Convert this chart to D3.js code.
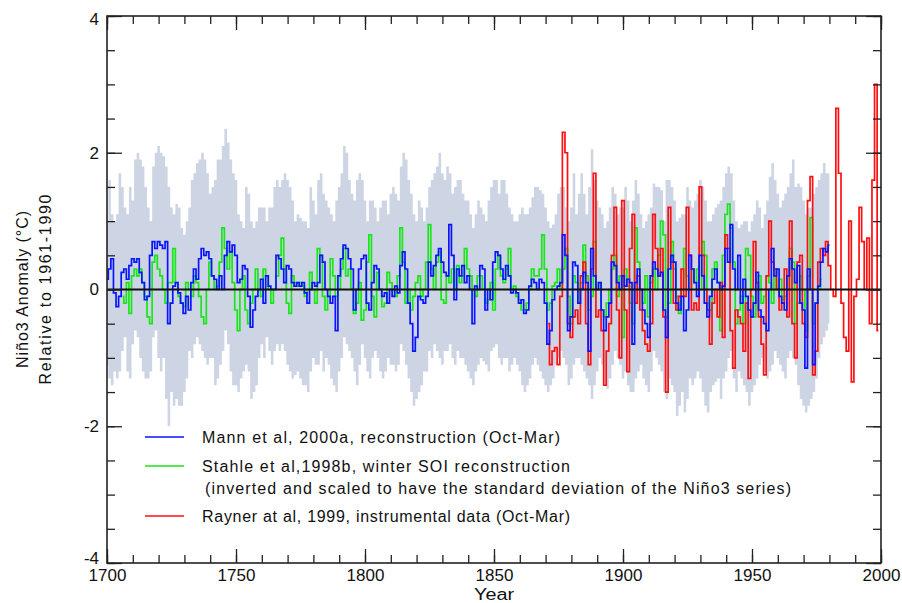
<!DOCTYPE html>
<html lang="en">
<head>
<meta charset="UTF-8">
<title>Nino3 anomaly</title>
<script src="https://cdn.jsdelivr.net/npm/d3@7"></script>
<style>
  body { margin: 0; background: #fff; }
  text { font-family: "Liberation Sans", Arial, sans-serif; fill: #111; }
</style>
</head>
<body>
<script>
// Mann et al 2000a, 1700-1980
const mannStart = 1700;
const mann = [
  0.15, 0.3, 0.45, -0.05, -0.25, -0.1, 0.25, 0.3, 0.15, 0.35,
  0.45, 0.4, 0.45, 0.25, 0.1, -0.15, -0.1, 0.5, 0.7, 0.6,
  0.7, 0.65, 0.6, 0.7, -0.5, -0.2, 0.05, 0.1, -0.05, -0.2,
  -0.35, -0.1, -0.3, 0.1, 0.3, 0.15, 0.45, 0.6, 0.5, 0.55,
  0.45, 0.2, 0.15, 0.0, 0.2, 0.0, 0.5, 0.7, 0.55, 0.65,
  0.5, 0.1, 0.15, 0.35, 0.3, -0.1, -0.55, -0.3, -0.1, 0.0,
  0.15, -0.2, 0.2, 0.05, 0.0, 0.0, 0.5, 0.45, 0.3, 0.1,
  0.35, 0.3, 0.1, 0.05, 0.1, 0.05, 0.1, -0.05, -0.2, 0.0,
  0.1, 0.05, 0.1, 0.5, 0.4, 0.0, -0.1, -0.2, -0.1, -0.6,
  0.2, 0.45, 0.65, 0.6, 0.45, 0.3, -0.3, 0.0, 0.3, 0.45,
  0.5, -0.2, -0.3, 0.1, 0.35, 0.3, 0.0, -0.1, -0.05, -0.2,
  0.0, -0.1, 0.05, -0.05, 0.35, 0.55, 0.3, -0.2, -0.5, -0.9,
  -0.7, -0.1, -0.15, -0.2, -0.1, 0.4, 0.2, 0.35, 0.5, 0.6,
  0.4, 0.25, 0.2, 0.95, 0.5, -0.15, 0.3, 0.2, 0.35, 0.1,
  0.2, 0.0, -0.5, 0.05, 0.0, 0.35, 0.3, -0.3, 0.0, -0.15,
  0.4, 0.55, 0.5, 0.3, 0.15, 0.35, 0.2, -0.05, 0.0, -0.05,
  -0.2, -0.15, -0.35, -0.3, 0.05, 0.15, 0.1, 0.0, 0.15, 0.1,
  -0.2, -0.8, -0.6, -0.15, 0.0, 0.05, 0.1, 0.8, 0.5, -0.6,
  -0.4, 0.4, 0.35, -0.2, 0.0, 0.25, 0.1, -0.9, 0.6, 0.2,
  0.0, 0.1, -0.3, -0.6, -0.4, -0.2, 0.4, 0.35, 0.1, 0.0,
  0.2, 0.05, 0.15, 0.1, -0.8, 0.1, 0.3, 0.0, -0.3, -0.5,
  -0.7, 0.2, 0.4, 0.3, 0.2, 0.25, -0.3, -0.7, 0.3, 0.5,
  0.4, -0.2, -0.3, -0.1, -0.6, -0.3, 0.5, 0.3, 0.1, -0.1,
  0.5, 0.2, -0.2, -0.4, -0.1, 0.15, 0.3, 0.1, 0.0, 0.05,
  0.6, 0.4, 0.95, 0.3, 0.0, 0.5, -0.2, 0.15, -0.1, -0.3,
  -0.4, -0.2, 0.25, -0.3, -0.4, -0.5, -0.6, 0.0, 0.6, 0.2,
  0.3, -0.1, -0.2, -0.3, 0.2, 0.45, 0.3, 0.1, 0.35, -0.2,
  -0.3, -1.15, 0.3, 0.0, -1.1, -0.2, 0.05, 0.4, 0.6, 0.55,
  0.65
];

// uncertainty band around the reconstruction, 1700-1980
const bandUpper = [
  1.0, 1.6, 1.1, 1.0, 1.1, 1.7, 1.5, 1.2, 1.1, 1.5,
  1.3, 1.9, 2.0, 1.9, 1.8, 1.5, 1.2, 1.0, 1.8, 2.0,
  2.1, 2.0, 1.95, 1.8, 1.5, 1.2, 1.1, 1.25, 1.2, 0.9,
  0.8, 1.0, 1.2, 1.6, 1.7, 1.85, 1.9, 2.0, 1.9, 1.7,
  1.4, 1.5, 1.6, 1.9, 1.9, 2.1, 2.35, 2.15, 1.9, 1.7,
  1.6, 1.1, 1.0, 0.9, 1.5, 1.4, 1.0, 0.9, 1.0, 1.2,
  1.2, 1.2, 1.0, 1.2, 1.2, 1.5, 1.6, 1.5, 1.6, 1.7,
  1.6, 1.5, 1.3, 1.0, 1.1, 1.05, 1.0, 1.0, 0.9, 1.5,
  1.3, 1.1, 1.6, 1.7, 1.4, 1.3, 1.2, 1.1, 1.0, 1.3,
  1.5, 1.7, 2.1, 2.0, 1.6, 1.4, 1.3, 1.6, 1.7, 1.6,
  1.3, 1.0, 1.3, 1.3, 1.2, 1.0, 1.2, 1.3, 1.3, 1.1,
  1.4, 1.5, 1.4, 1.3, 1.8, 2.0, 1.9, 1.6, 1.4, 1.1,
  1.0, 1.3, 1.2, 1.0, 1.2, 1.5, 1.6, 1.7, 1.8, 2.0,
  1.7, 1.6, 1.8, 1.7, 1.4, 1.5, 1.6, 1.6, 1.4, 1.3,
  1.3, 1.1, 0.9, 1.1, 1.3, 1.2, 1.1, 1.0, 1.3, 1.5,
  1.6, 1.6, 1.4, 1.6, 1.6, 1.4, 1.2, 1.1, 1.0, 1.0,
  1.1, 1.2, 1.1, 1.1, 1.2, 1.35, 1.5, 1.5, 1.45, 1.4,
  1.2, 1.0, 0.9, 0.95, 1.1, 1.4, 1.5, 1.5, 1.2, 1.0,
  1.2, 1.7, 1.1, 1.4, 1.7, 1.4, 1.1, 1.5, 2.05, 1.6,
  1.3, 1.2, 1.1, 0.9, 1.0, 1.2, 1.5, 1.4, 1.1, 1.2,
  1.2, 1.5, 1.3, 1.0, 1.3, 1.6, 1.4, 1.1, 0.9, 1.0,
  1.1, 1.2, 1.55, 1.5, 1.5, 1.45, 1.0, 1.6, 1.6, 1.5,
  1.3, 1.0, 1.05, 1.1, 1.1, 1.5, 1.3, 1.2, 1.3, 1.4,
  1.6, 1.5, 1.3, 1.0, 1.0, 1.1, 1.2, 1.25, 1.3, 1.5,
  1.7, 1.8, 1.7, 1.3, 1.0, 0.9, 0.95, 1.0, 1.0, 0.85,
  1.0, 1.1, 1.3, 1.2, 0.9, 1.1, 1.3, 1.65, 1.85, 1.6,
  1.4, 1.2, 1.3, 1.4, 1.5, 1.7, 1.9, 1.5, 1.55, 1.5,
  1.3, 1.1, 1.2, 1.2, 1.4, 1.5, 1.6, 1.7, 1.85, 1.7,
  1.7
];
const bandLower = [
  -1.1, -1.3, -1.4, -1.2, -1.3, -1.2, -0.9, -0.7, -1.2, -1.3,
  -0.8, -0.6, -0.7, -1.0, -1.2, -1.3, -1.3, -1.2, -0.7, -0.6,
  -1.0, -1.2, -1.0, -1.6, -2.0, -1.5, -1.7, -1.6, -1.7, -1.7,
  -1.5, -1.3, -0.9, -1.0, -0.8, -0.7, -0.8, -0.9, -1.0, -1.1,
  -1.0, -1.0, -1.4, -1.3, -1.1, -0.9, -0.6, -0.8, -1.2, -1.4,
  -1.4, -1.5, -1.3, -1.2, -1.1, -1.2, -1.6, -1.5, -1.4, -1.0,
  -0.8, -1.0, -0.7, -0.9, -1.1, -0.9, -0.8, -0.9, -0.8, -0.9,
  -1.1, -1.2, -1.3, -1.25, -1.2, -1.3, -1.4, -1.4, -1.5, -1.2,
  -1.0, -1.1, -1.1, -0.9, -1.2, -1.0, -1.1, -1.3, -1.4, -1.5,
  -1.2, -1.0, -0.7, -0.8, -0.9, -1.0, -1.2, -1.4, -1.1, -0.8,
  -1.0, -1.2, -1.3, -1.0, -0.9, -1.0, -1.2, -1.3, -1.2, -1.0,
  -1.1, -1.1, -1.2, -1.1, -0.8, -0.9, -1.1, -1.3, -1.5, -1.7,
  -1.6, -1.5, -1.4, -1.2, -1.2, -0.9, -1.0, -0.8, -0.9, -1.0,
  -1.1, -0.9, -0.9, -0.8, -1.0, -1.1, -0.9, -1.0, -1.0, -1.1,
  -1.2, -1.3, -1.4, -1.2, -1.1, -1.0, -1.05, -1.1, -1.2, -0.9,
  -0.85, -0.8, -1.0, -1.1, -1.0, -1.0, -1.2, -1.1, -1.0, -1.1,
  -1.2, -1.4, -1.5, -1.4, -1.3, -1.1, -1.0, -1.1, -1.2, -1.3,
  -1.4, -1.5, -1.4, -1.3, -1.1, -1.0, -0.9, -1.0, -1.1, -1.4,
  -1.3, -1.1, -1.0, -1.0, -1.1, -1.2, -1.3, -1.4, -1.6, -1.4,
  -1.2, -1.0, -1.1, -1.4, -1.45, -1.3, -1.1, -0.9, -1.0, -1.1,
  -1.3, -1.2, -1.4, -1.5, -1.5, -1.3, -1.2, -1.1, -1.3, -1.4,
  -1.5, -1.2, -0.9, -1.0, -1.1, -1.2, -1.5, -1.6, -1.3, -1.4,
  -1.5, -1.85, -1.7, -1.5, -1.8, -1.6, -1.3, -1.4, -1.3, -1.2,
  -1.3, -1.5, -1.7, -1.8, -1.5, -1.4, -1.35, -1.3, -1.6, -1.3,
  -1.2, -1.0, -0.9, -1.3, -1.5, -1.2, -1.3, -1.4, -1.5, -1.7,
  -1.5, -1.4, -1.3, -1.1, -1.0, -1.2, -1.3, -1.2, -1.1, -0.9,
  -1.0, -1.1, -1.2, -1.3, -1.0, -0.9, -1.0, -1.1, -1.4, -1.6,
  -1.7, -1.8, -1.7, -1.6, -1.5, -1.3, -1.0, -0.8, -0.7, -0.6,
  -0.5
];

// Stahle et al 1998b, inverted and scaled winter SOI, 1706-1977
const stahleStart = 1706;
const stahle = [
  -0.1, -0.2, 0.1, -0.35,
  0.2, 0.3, 0.2, 0.3, 0.1, -0.1, -0.4, -0.5, 0.4, 0.5,
  0.3, 0.2, 0.0, -0.2, 0.1, 0.1, 0.6, 0.1, -0.1, -0.2,
  -0.25, 0.1, 0.0, -0.1, 0.2, 0.1, -0.1, -0.4, -0.5, 0.0,
  0.4, 0.2, 0.0, 0.05, 0.4, 0.9, 0.6, 0.3, 0.55, 0.1,
  -0.3, -0.6, 0.0, 0.2, -0.3, -0.5, -0.2, 0.0, 0.3, 0.0,
  -0.1, 0.3, 0.2, 0.0, -0.2, 0.0, 0.2, 0.5, 0.75, 0.3,
  -0.2, -0.35, 0.2, 0.1, 0.05, 0.1, 0.05, -0.1, 0.0, 0.25,
  0.0, -0.2, 0.6, 0.5, -0.1, -0.3, -0.1, 0.45, 0.2, -0.1,
  0.0, 0.3, 0.6, 0.2, 0.3, 0.0, -0.35, -0.2, 0.1, -0.45,
  -0.3, 0.4, 0.8, -0.1, -0.4, 0.25, 0.0, -0.25, -0.2, 0.25,
  0.1, 0.0, -0.1, 0.2, 0.9, 0.4, -0.2, 0.0, -0.3, -0.1,
  0.1, 0.2, -0.1, 0.0, 0.4, 0.95, 0.3, 0.0, 0.4, 0.55,
  -0.15, -0.2, 0.2, 0.1, 0.3, 0.0, 0.35, 0.1, 0.2, 0.6,
  0.3, 0.2, 0.0, -0.1, 0.2, 0.2, 0.0, -0.2, -0.15, 0.1,
  -0.3, 0.3, 0.5, 0.2, 0.1, 0.3, 0.6, 0.0, 0.05, -0.1,
  -0.15, -0.3, -0.3, -0.2, 0.0, 0.3, 0.2, 0.2, 0.3, 0.8,
  0.3, -0.3, -0.2, 0.05, 0.1, 0.3, 0.0, 0.3, 0.6, -0.1,
  -0.5, 0.2, 0.1, -0.2, 0.1, 0.65, 0.2, -0.3, -0.1, 0.7,
  0.0, 0.1, -0.3, -0.4, -0.2, 0.0, 0.3, 0.5, -0.1, 0.2,
  -0.7, 0.3, 0.05, -0.2, -0.5, 0.9, 0.4, 0.0, -0.2, 0.2,
  -0.4, 0.1, 0.3, 0.0, 0.5, 1.0, 0.8, -0.4, -0.2, 0.7,
  0.3, -0.1, -0.35, 0.0, 0.6, 0.2, 0.0, 0.3, 0.1, 0.3,
  0.0, 0.7, 0.5, -0.2, -0.3, 0.3, 0.4, 0.1, -0.6, 0.5,
  1.1, 1.25, 0.9, 0.4, -0.5, -0.3, -0.1, -0.5, 0.6, 0.5,
  -0.1, -0.4, 0.0, 0.2, -0.2, -0.1, 0.2, 0.1, -0.2, 0.3,
  0.0, 0.15, -0.15, -0.1, 0.0, 0.6, 0.4, -0.5, -0.2, 0.2,
  0.0, -0.6, 0.2, 1.05, -0.5, -0.2, 0.0, 0.15
];

// Rayner et al 1999, instrumental, 1871-1999
const raynerStart = 1871;
const rayner = [
  -0.5, -1.1, -0.9, -0.85, -1.1, -0.1, 2.3, 2.0, -0.5,
  -0.7, -0.4, -0.3, -0.5, 0.2, 0.4, -0.5, -1.1, 0.3, 1.7,
  -0.4, -0.3, -0.6, -1.4, -0.9, -0.5, 0.5, 1.2, -0.3, -1.0,
  1.3, -0.3, -1.2, 0.6, 1.1, -0.2, 0.2, -0.3, -0.6, -0.8,
  -0.9, -0.5, 1.1, 0.6, 0.2, 0.6, -0.4, -1.5, 1.2, 0.4,
  -0.2, -0.3, -0.1, 0.3, -0.1, 1.2, 0.5, -0.3, -0.2, -0.3,
  1.5, 0.5, 0.0, -0.3, -0.8, -0.2, 0.0, -0.4, 0.1, -0.7,
  0.8, 0.6, -0.6, -1.15, -0.3, -0.4, -0.5, -0.9, -0.2, -1.3,
  0.0, 0.7, 0.1, -0.4, -0.8, -1.25, 0.2, 1.0, 0.4, 0.3,
  0.0, -0.3, -0.2, 0.3, -0.4, 1.0, -0.5, -1.0, 0.4, 0.5,
  -0.5, -0.7, 1.3, 1.65, -1.25, -0.9, 0.4, 0.6, 0.5, 0.7,
  0.35, 0.0, -0.1, 2.65, 1.7, -0.2, -0.7, -0.9, 1.0, -1.35,
  -0.1, 0.15, 1.2, 0.7, 0.0, 0.75, -0.5, 1.6, 3.0, -0.6
];

const xTicks = [1700, 1750, 1800, 1850, 1900, 1950, 2000];
const yTicks = [-4, -2, 0, 2, 4];
const legendItems = [
  { label: "Mann et al, 2000a, reconstruction (Oct-Mar)", color: "#0a14ff", len: 358 },
  { label: "Stahle et al,1998b, winter SOI reconstruction", color: "#19e619", len: 368,
    extra: "(inverted and scaled to have the standard deviation of the Niño3 series)", extraLen: 586 },
  { label: "Rayner at al, 1999, instrumental data (Oct-Mar)", color: "#ff1010", len: 368 }
];

const W = 902, H = 603;
const margin = { left: 107, top: 16, right: 21, bottom: 40 };
const iw = W - margin.left - margin.right;
const ih = H - margin.top - margin.bottom;

const svg = d3.select("body").append("svg")
  .attr("width", W)
  .attr("height", H);

const g = svg.append("g").attr("transform", `translate(${margin.left},${margin.top})`);

const x = d3.scaleLinear().domain([1700, 2000]).range([0, iw]);
const y = d3.scaleLinear().domain([-4, 4]).range([ih, 0]);

const toPts = (arr, start) => arr.map((v, i) => ({ year: start + i, v: v }));

// band
const bandPts = bandUpper.map((u, i) => ({ year: mannStart + i, hi: u, lo: bandLower[i] }));
g.append("path")
  .datum(bandPts)
  .attr("fill", "#cdd5e4")
  .attr("d", d3.area().curve(d3.curveStep)
    .x(d => x(d.year)).y0(d => y(d.lo)).y1(d => y(d.hi)));

const line = d3.line().curve(d3.curveStep).x(d => x(d.year)).y(d => y(d.v));

g.append("path").datum(toPts(stahle, stahleStart))
  .attr("fill", "none").attr("stroke", legendItems[1].color).attr("stroke-width", 1.7)
  .attr("d", line);
g.append("path").datum(toPts(rayner, raynerStart))
  .attr("fill", "none").attr("stroke", legendItems[2].color).attr("stroke-width", 1.7)
  .attr("d", line);
g.append("path").datum(toPts(mann, mannStart))
  .attr("fill", "none").attr("stroke", legendItems[0].color).attr("stroke-width", 1.7)
  .attr("d", line);

// zero line
g.append("line")
  .attr("x1", 0).attr("x2", iw)
  .attr("y1", y(0)).attr("y2", y(0))
  .attr("stroke", "#111").attr("stroke-width", 1.8);

// axes: minor and major ticks, pointing inwards on all sides
const minorY = d3.range(-4, 4.01, 0.5);
const minorX = d3.range(1700, 2001, 10);

function tickAxis(axis, tickVals, size) {
  return axis.tickValues(tickVals).tickSize(size).tickFormat("");
}

g.append("g").call(tickAxis(d3.axisLeft(y), minorY, -8));
g.append("g").attr("transform", `translate(${iw},0)`).call(tickAxis(d3.axisRight(y), minorY, -8));
g.append("g").attr("transform", `translate(0,${ih})`).call(tickAxis(d3.axisBottom(x), minorX, -8));
g.append("g").call(tickAxis(d3.axisTop(x), minorX, -8));

g.append("g").attr("transform", `translate(${iw},0)`).call(tickAxis(d3.axisRight(y), yTicks, -15));
g.append("g").call(tickAxis(d3.axisTop(x), xTicks, -14));

g.append("g").attr("class", "yaxis")
  .call(d3.axisLeft(y).tickValues(yTicks).tickSize(-15).tickPadding(8).tickFormat(d => String(d)));
g.append("g").attr("class", "xaxis")
  .attr("transform", `translate(0,${ih})`)
  .call(d3.axisBottom(x).tickValues(xTicks).tickSize(-14).tickPadding(6).tickFormat(d => String(d)));

g.selectAll(".domain").remove();
g.selectAll(".tick line").attr("stroke", "#222").attr("stroke-width", 1.3);
g.selectAll(".yaxis text, .xaxis text")
  .style("font-size", "17px")
  .style("font-family", "'Liberation Sans', Arial, sans-serif")
  .attr("fill", "#111");
// lift the bottom y label clear of the year labels
g.selectAll(".yaxis .tick text").filter(d => d === -4).attr("dy", "0.05em");
g.selectAll(".yaxis .tick text").filter(d => d === 4).attr("dy", "0.5em");

// frame
g.append("rect")
  .attr("width", iw).attr("height", ih)
  .attr("fill", "none").attr("stroke", "#222").attr("stroke-width", 1.6);

// axis titles
svg.append("text")
  .attr("x", margin.left + iw / 2).attr("y", H - 3)
  .attr("text-anchor", "middle").style("font-size", "16px")
  .attr("textLength", 40).attr("lengthAdjust", "spacingAndGlyphs")
  .text("Year");

svg.append("text")
  .attr("transform", `translate(28,${margin.top + y(0)}) rotate(-90)`)
  .attr("text-anchor", "middle").style("font-size", "16px")
  .attr("textLength", 157)
  .text("Niño3 Anomaly (°C)");
svg.append("text")
  .attr("transform", `translate(51,${margin.top + y(0)}) rotate(-90)`)
  .attr("text-anchor", "middle").style("font-size", "16px")
  .attr("textLength", 190)
  .text("Relative to 1961-1990");

// legend
const legendY = [437, 466, 516];
const legend = svg.append("g");
legendItems.forEach((d, i) => {
  legend.append("line")
    .attr("x1", 145).attr("x2", 184)
    .attr("y1", legendY[i]).attr("y2", legendY[i])
    .attr("stroke", d.color).attr("stroke-width", 1.7);
  legend.append("text")
    .attr("x", 202).attr("y", legendY[i] + 6)
    .style("font-size", "16px")
    .attr("textLength", d.len)
    .text(d.label);
  if (d.extra) {
    legend.append("text")
      .attr("x", 205).attr("y", legendY[i] + 28)
      .style("font-size", "16px")
      .attr("textLength", d.extraLen)
      .text(d.extra);
  }
});
</script>
</body>
</html>
